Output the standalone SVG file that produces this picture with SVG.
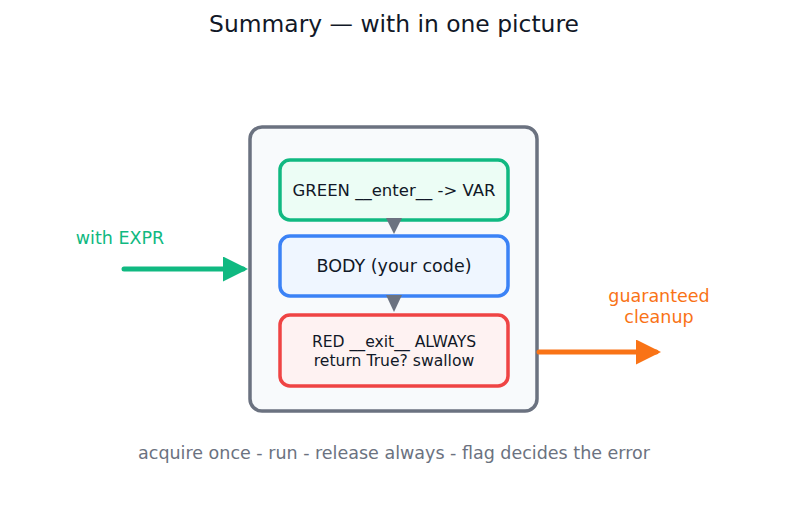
<svg xmlns="http://www.w3.org/2000/svg" width="787" height="510" viewBox="0 0 787 510">
<style>
text{font-family:"DejaVu Sans",sans-serif}
.box{stroke-width:3.5}
.lbl{fill:#111827;text-anchor:middle}
</style>
<defs>
<marker id="ag" markerWidth="5" markerHeight="5" refX="4" refY="2.5" orient="auto" markerUnits="strokeWidth"><path d="M0,0 L5,2.5 L0,5 Z" fill="#10b981"/></marker>
<marker id="ao" markerWidth="5" markerHeight="5" refX="4" refY="2.5" orient="auto" markerUnits="strokeWidth"><path d="M0,0 L5,2.5 L0,5 Z" fill="#f97316"/></marker>
</defs>
<rect width="787" height="510" fill="#ffffff"/>
<text x="394" y="32" font-size="23.4" fill="#111827" text-anchor="middle">Summary — with in one picture</text>
<g id="container"><rect x="250" y="127" width="287" height="284" rx="12" fill="#f8fafc" stroke="#6b7280" stroke-width="3.5"/></g>
<g id="enter"><rect class="box" x="280" y="160" width="228" height="60" rx="10" fill="#ecfdf5" stroke="#10b981"/><text class="lbl" x="394" y="196" font-size="16.5">GREEN __enter__ -&gt; VAR</text></g>
<g id="body"><rect class="box" x="280" y="236" width="228" height="60" rx="10" fill="#eff6ff" stroke="#3b82f6"/><text class="lbl" x="394" y="272" font-size="17.5">BODY (your code)</text></g>
<g id="exit"><rect class="box" x="280" y="315" width="228" height="71" rx="10" fill="#fef2f2" stroke="#ef4444"/><text class="lbl" x="394" y="347" font-size="15.6">RED __exit__ ALWAYS</text><text class="lbl" x="394" y="366" font-size="15.6">return True? swallow</text></g>
<g id="connectors">
<path d="M386,218 L402,218 L394,234 Z" fill="#6b7280"/>
<path d="M386,295 L402,295 L394,312 Z" fill="#6b7280"/>
<line x1="124" y1="269" x2="243" y2="269" stroke="#10b981" stroke-width="5" stroke-linecap="round" marker-end="url(#ag)"/>
<line x1="539" y1="352" x2="656" y2="352" stroke="#f97316" stroke-width="5" stroke-linecap="round" marker-end="url(#ao)"/>
</g>
<text x="120" y="244" font-size="17.5" fill="#10b981" text-anchor="middle">with EXPR</text>
<text x="659" y="302" font-size="17.5" fill="#f97316" text-anchor="middle">guaranteed</text>
<text x="659" y="323" font-size="17.5" fill="#f97316" text-anchor="middle">cleanup</text>
<text x="394" y="459" font-size="17.5" fill="#6b7280" text-anchor="middle">acquire once - run - release always - flag decides the error</text>
</svg>
